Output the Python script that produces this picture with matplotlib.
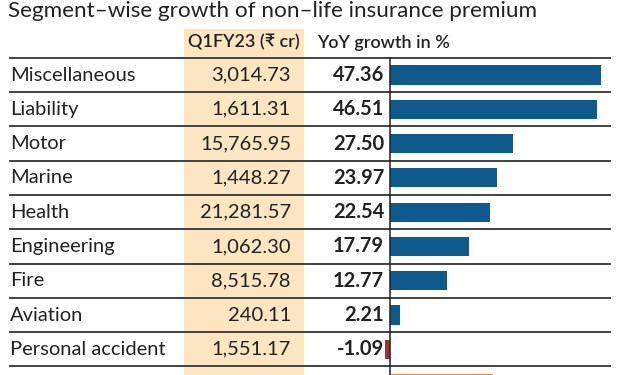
import matplotlib
matplotlib.use('Agg')
import matplotlib.pyplot as plt
import matplotlib.transforms as mtransforms

segments = ['Miscellaneous', 'Liability', 'Motor', 'Marine', 'Health',
            'Engineering', 'Fire', 'Aviation', 'Personal accident', 'Total']
premium = ['3,014.73', '1,611.31', '15,765.95', '1,448.27', '21,281.57',
           '1,062.30', '8,515.78', '240.11', '1,551.17', '54,491.19']
growth = [47.36, 46.51, 27.50, 23.97, 22.54, 17.79, 12.77, 2.21, -1.09, 23.09]

title = 'Segment\u2013wise growth of non\u2013life insurance premium'
head_prem = 'Q1FY23 (\u20b9 cr)'
head_growth = 'YoY growth in %'

plt.rcParams['font.family'] = ['Lato', 'DejaVu Sans']

fig = plt.figure(figsize=(6.2, 3.75), dpi=100)
ax = fig.add_axes([0, 0, 1, 1])
ax.set_xlim(-87.4, 51.6)
ax.set_ylim(8.75, -2.19)
ax.axis('off')
tr = mtransforms.blended_transform_factory(ax.transAxes, ax.transData)

# peach column behind the premium figures
ax.add_patch(plt.Rectangle((184/620, -1.33), 120/620, 12, transform=tr,
                           color='#fce6c2', zorder=0, lw=0))

for i in range(len(segments)):
    ax.plot([10/620, 610/620], [i-0.5, i-0.5], transform=tr, color='#333333', lw=1.3, zorder=2)
ax.plot([0, 0], [-0.5, 10], color='#222222', lw=1.1, zorder=3)

cols = []
for g, s in zip(growth, segments):
    if s == 'Total':
        cols.append('#f0852a')
    elif g < 0:
        cols.append('#a3302c')
    else:
        cols.append('#0f5a8c')
ax.barh(range(len(segments)), growth, height=0.56, color=cols, zorder=2)

for i, s in enumerate(segments):
    ax.text(10/620, i, s, transform=tr, ha='left', va='center', fontsize=14.5, color='#222222')
    ax.text(291/620, i, premium[i], transform=tr, ha='right', va='center', fontsize=14.5, color='#222222')
    ax.text(384/620, i, '%.2f' % growth[i], transform=tr, ha='right', va='center', fontsize=14.5,
            fontweight='bold', color='#222222')

ax.text(244/620, -0.95, head_prem, transform=tr, ha='center', va='center', fontsize=13,
        fontweight='semibold', color='#222222')
ax.text(317/620, -0.95, head_growth, transform=tr, ha='left', va='center', fontsize=13,
        fontweight='semibold', color='#222222')
ax.text(8/620, -1.86, title, transform=tr, ha='left', va='center', fontsize=16.2, color='#222222')

fig.savefig('out.png', dpi=100)
